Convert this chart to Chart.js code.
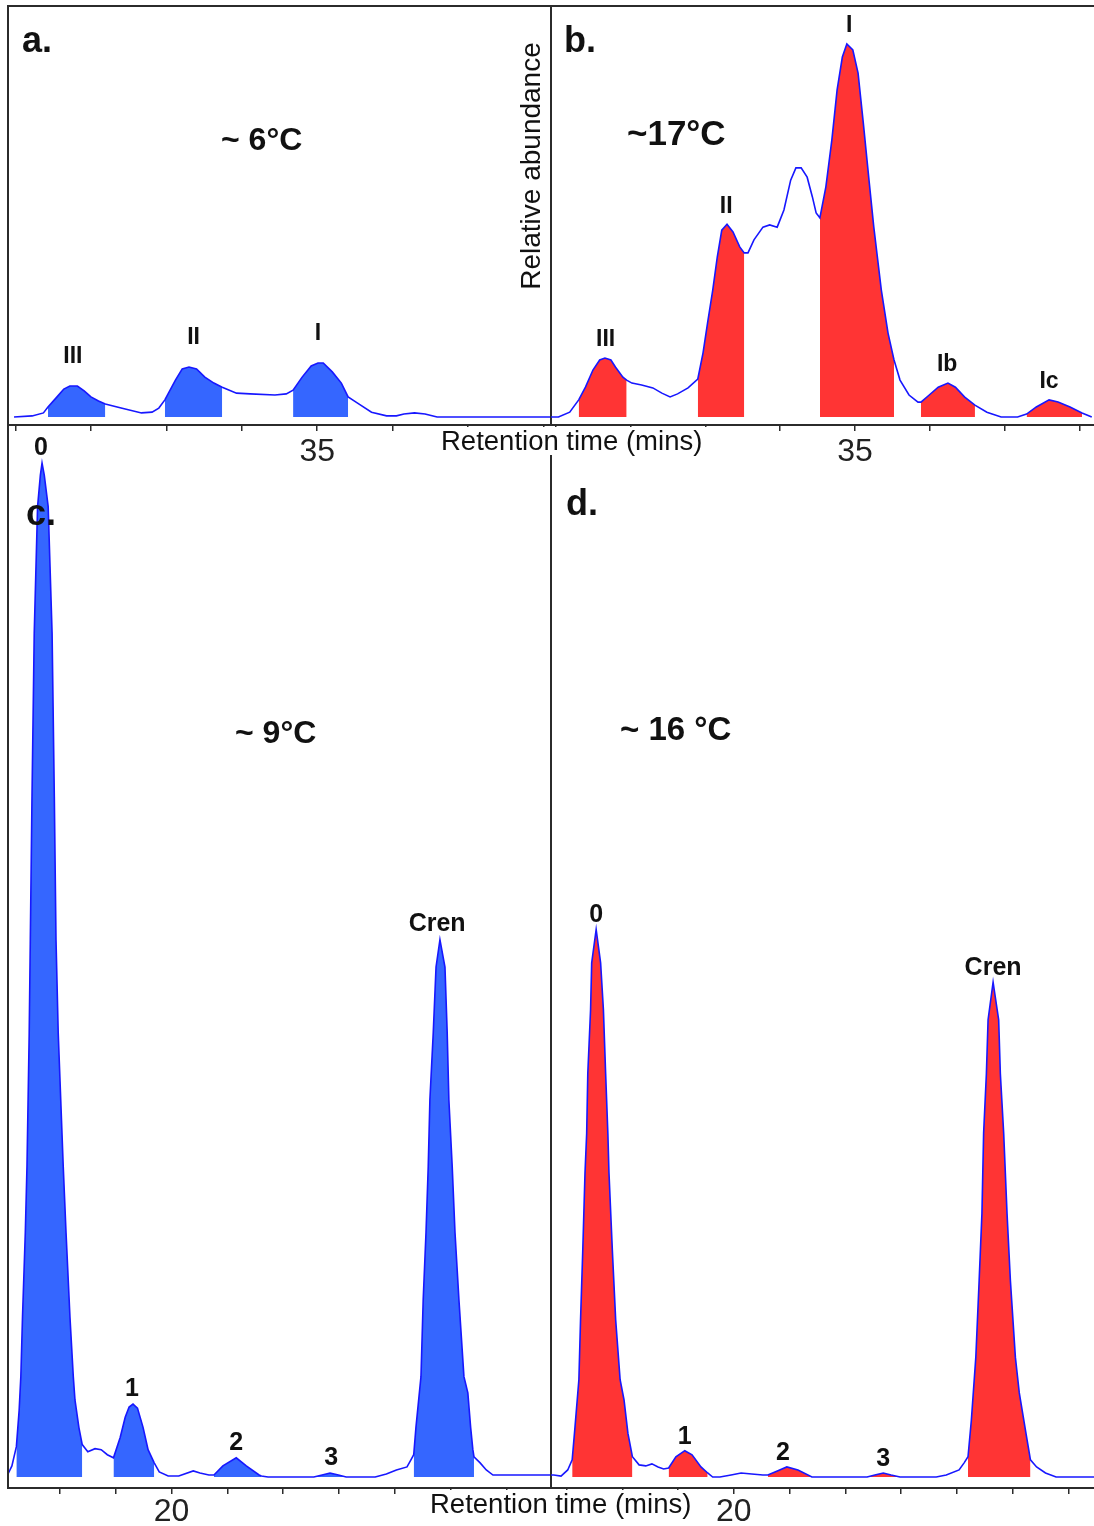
<!DOCTYPE html>
<html>
<head>
<meta charset="utf-8">
<title>GDGT chromatograms</title>
<script src="https://cdn.jsdelivr.net/npm/chart.js@4.4.1/dist/chart.umd.min.js"></script>
<style>
  html, body { margin: 0; padding: 0; background: #fff; }
  body { position: relative; width: 1094px; height: 1526px; overflow: hidden;
         font-family: "Liberation Sans", Arial, Helvetica, sans-serif; color: #111; }
  canvas { position: absolute; }
  .frame { position: absolute; left: 7px; top: 5px; width: 1087px; height: 1483px;
           border-top: 2px solid #2b2b2b; border-left: 2px solid #2b2b2b;
           box-sizing: border-box; z-index: 2; }
  .mask { position: absolute; background: #fff; z-index: 3; }
  .txt { position: absolute; line-height: 1; white-space: nowrap; z-index: 4; }
  .b { font-weight: bold; }
  .ylab { position: absolute; left: 401px; top: 150px; width: 260px; height: 32px;
          line-height: 32px; font-size: 28px; text-align: center; z-index: 4;
          transform: rotate(-90deg); white-space: nowrap; }
</style>
</head>
<body>
<canvas id="panelA" width="560" height="480" style="left:0;top:0"></canvas>
<canvas id="panelB" width="554" height="480" style="left:540px;top:0"></canvas>
<canvas id="panelC" width="560" height="1096" style="left:0;top:430px"></canvas>
<canvas id="panelD" width="554" height="1096" style="left:540px;top:430px"></canvas>

<div class="frame"></div>

<div class="mask" style="left:436px;top:427px;width:276px;height:28px"></div>
<div class="mask" style="left:424px;top:1490px;width:280px;height:36px"></div>

<div class="txt" style="left:441px;top:427px;font-size:27.5px">Retention time (mins)</div>
<div class="txt" style="left:430px;top:1490px;font-size:27.5px">Retention time (mins)</div>
<div class="ylab">Relative abundance</div>

<div class="txt b" style="left:22px;top:22px;font-size:36px">a.</div>
<div class="txt b" style="left:564px;top:22px;font-size:36px">b.</div>
<div class="txt b" style="left:26px;top:495px;font-size:36px">c.</div>
<div class="txt b" style="left:566px;top:485px;font-size:36px">d.</div>

<div class="txt b" style="left:221px;top:123px;font-size:32px">~ 6°C</div>
<div class="txt b" style="left:627px;top:115px;font-size:35px">~17°C</div>
<div class="txt b" style="left:235px;top:716px;font-size:32px">~ 9°C</div>
<div class="txt b" style="left:620px;top:712px;font-size:33px">~ 16 °C</div>

<script>
// a. ~6°C, branched GDGTs: retention time (min) / relative abundance
const aTime = [30.98, 31.22, 31.37, 31.43, 31.55, 31.64, 31.72, 31.82, 31.91, 32.00,
  32.10, 32.19, 32.40, 32.67, 32.81, 32.90, 32.98, 33.12, 33.21, 33.30, 33.40, 33.51,
  33.63, 33.74, 33.93, 34.11, 34.44, 34.59, 34.68, 34.80, 34.92, 35.01, 35.08, 35.20,
  35.32, 35.41, 35.53, 35.72, 35.92, 36.05, 36.15, 36.29, 36.43, 36.59, 38.10];
const aSignal = [0, 0.3, 1.1, 2.7, 5.4, 7.5, 8.3, 8.3, 7.0, 5.4,
  4.3, 3.5, 2.4, 1.1, 1.3, 2.4, 4.6, 9.9, 12.9, 13.4, 12.9, 10.7,
  9.1, 8.0, 6.4, 6.2, 5.9, 6.2, 7.2, 10.7, 13.7, 14.5, 14.5, 12.1,
  9.1, 5.4, 3.8, 1.3, 0.3, 0.3, 0.8, 1.1, 0.8, 0, 0];
const aPeaks = ['III', 'II', 'I'];
const aPeakAt = [31.76, 33.36, 35.01];
const aStart = [31.43, 32.98, 34.68];
const aEnd = [32.19, 33.74, 35.41];

// b. ~17°C
const bTime = [30.94, 31.04, 31.19, 31.31, 31.40, 31.50, 31.59, 31.66, 31.74, 31.80,
  31.90, 31.95, 32.02, 32.15, 32.30, 32.42, 32.53, 32.63, 32.77, 32.90, 32.97, 33.03,
  33.10, 33.16, 33.22, 33.29, 33.37, 33.46, 33.52, 33.57, 33.65, 33.77, 33.86, 33.96,
  34.05, 34.14, 34.21, 34.28, 34.36, 34.43, 34.48, 34.53, 34.61, 34.69, 34.76, 34.83,
  34.89, 34.97, 35.04, 35.11, 35.19, 35.25, 35.35, 35.44, 35.52, 35.60, 35.72, 35.84,
  35.88, 35.99, 36.11, 36.24, 36.34, 36.46, 36.60, 36.76, 36.95, 37.17, 37.29, 37.42,
  37.59, 37.71, 37.87, 38.03, 38.16];
const bSignal = [0, 0, 1.3, 4.6, 8.0, 12.6, 15.3, 15.8, 15.3, 13.4,
  10.7, 9.9, 9.1, 8.6, 7.8, 6.4, 5.4, 6.2, 7.8, 10.2, 17.2, 25.2,
  34.1, 42.9, 50.1, 51.7, 49.6, 45.6, 44.0, 44.0, 47.5, 50.9, 51.5, 50.9,
  55.5, 63.5, 66.8, 66.8, 64.3, 59.0, 54.7, 53.4, 61.7, 74.3, 87.7, 96.5,
  100, 98.4, 92.2, 78.8, 62.7, 50.9, 34.1, 22.5, 15.3, 9.9, 5.9, 4.0,
  4.0, 5.9, 8.0, 9.1, 8.0, 5.4, 3.2, 1.3, 0, 0, 0.8, 2.7,
  4.6, 4.0, 2.7, 1.1, 0];
const bPeaks = ['III', 'II', 'I', 'Ib', 'Ic'];
const bPeakAt = [31.67, 33.28, 34.92, 36.23, 37.59];
const bStart = [31.31, 32.90, 34.53, 35.88, 37.29];
const bEnd = [31.95, 33.52, 35.52, 36.60, 38.03];

// c. ~9°C, isoprenoid GDGTs and crenarchaeol
const cTime = [17.07, 17.14, 17.22, 17.27, 17.30, 17.33, 17.38, 17.41, 17.45, 17.47,
  17.50, 17.54, 17.60, 17.65, 17.68, 17.72, 17.79, 17.86, 17.90, 17.93,
  17.97, 18.06, 18.11, 18.18, 18.24, 18.27, 18.34, 18.40, 18.50, 18.63, 18.74, 18.85,
  18.96, 19.08, 19.17, 19.24, 19.31, 19.39, 19.49, 19.58, 19.69, 19.78, 19.94, 20.13,
  20.39, 20.51, 20.67, 20.76, 20.92, 21.16, 21.34, 21.57, 21.61, 21.73, 22.50, 22.55,
  22.70, 22.84, 22.99, 23.13, 23.65, 23.85, 24.03, 24.22, 24.29, 24.34, 24.38, 24.47,
  24.51, 24.56, 24.60, 24.63, 24.69, 24.74, 24.81, 24.90, 24.94, 24.97, 25.03, 25.08,
  25.15, 25.24, 25.31, 25.36, 25.40, 25.42, 25.53, 25.64, 25.76, 26.80];
const cSignal = [0.3, 1.1, 3.0, 6.6, 9.9, 15.8, 24.1, 30.6, 43.8, 53.0,
  67.1, 83.2, 95.7, 98.8, 100, 98.8, 95.7, 83.2, 67.1, 53.0,
  43.8, 30.6, 24.1, 15.8, 9.9, 7.6, 4.9, 3.2, 2.5, 2.8, 2.7, 2.2,
  1.9, 3.9, 5.9, 6.9, 7.2, 6.8, 4.9, 2.7, 1.4, 0.5, 0.1, 0.1,
  0.6, 0.4, 0.2, 0.2, 1.1, 1.9, 1.1, 0.2, 0.1, 0, 0, 0,
  0.2, 0.4, 0.2, 0, 0, 0.3, 0.7, 1.0, 1.7, 2.2, 4.9, 9.9,
  17.5, 24.1, 30.6, 37.2, 43.8, 50.3, 53.0, 50.3, 43.8, 37.2, 30.6, 24.1,
  17.5, 9.9, 8.3, 4.9, 2.7, 2.0, 1.4, 0.7, 0.2, 0.2];
const cPeaks = ['0', '1', '2', '3', 'Cren'];
const cPeakAt = [17.66, 19.29, 21.16, 22.86, 24.76];
const cStart = [17.22, 18.96, 20.76, 22.55, 24.34];
const cEnd = [18.40, 19.69, 21.61, 23.13, 25.42];

// d. ~16°C
const dTime = [16.72, 16.77, 16.90, 17.02, 17.10, 17.15, 17.22, 17.25, 17.29, 17.33,
  17.36, 17.38, 17.43, 17.45, 17.53, 17.61, 17.66, 17.70, 17.74, 17.76, 17.82, 17.88,
  17.96, 18.03, 18.10, 18.18, 18.30, 18.42, 18.53, 18.64, 18.74, 18.83, 18.96, 19.12,
  19.25, 19.41, 19.53, 19.62, 19.75, 19.95, 20.13, 20.32, 20.52, 20.61, 20.78, 20.95,
  21.15, 21.40, 21.42, 22.35, 22.39, 22.53, 22.68, 22.82, 22.98, 23.63, 23.81, 24.04,
  24.13, 24.20, 24.26, 24.34, 24.40, 24.45, 24.48, 24.53, 24.56, 24.65, 24.75, 24.78,
  24.84, 24.90, 24.96, 25.05, 25.12, 25.24, 25.32, 25.43, 25.59, 25.78, 26.46];
const dSignal = [0.2, 0.2, 0.1, 0.7, 1.7, 4.9, 9.6, 15.5, 22.4, 30.0,
  33.9, 39.8, 46.1, 50.7, 54.0, 50.7, 46.1, 39.8, 33.9, 30.0, 22.4, 15.5,
  9.6, 7.6, 4.3, 2.0, 1.2, 1.1, 1.3, 1.0, 0.8, 0.9, 2.0, 2.6,
  2.2, 1.0, 0.4, 0, 0, 0.2, 0.4, 0.3, 0.2, 0.2, 0.6, 1.0,
  0.7, 0, 0, 0, 0, 0.2, 0.4, 0.2, 0, 0, 0.2, 0.7,
  1.4, 2.0, 5.6, 11.8, 19.4, 26.0, 33.9, 39.8, 45.1, 48.8, 45.1, 39.8,
  33.9, 26.0, 19.4, 11.8, 8.3, 4.3, 1.7, 1.0, 0.4, 0, 0];
const dPeaks = ['0', '1', '2', '3', 'Cren'];
const dPeakAt = [17.53, 19.12, 20.88, 22.68, 24.65];
const dStart = [17.10, 18.83, 20.61, 22.39, 24.20];
const dEnd = [18.18, 19.53, 21.42, 22.98, 25.32];

const topTickLabels = [35];
const bottomTickLabels = [20];

const traceBlue = '#1717ff';
const blueFill = '#3566ff';
const redFill = '#ff3434';
const axisGrey = '#2b2b2b';
const narrow = '"Liberation Sans Narrow", "Arial Narrow", "Liberation Sans", Arial, sans-serif';

Chart.defaults.font.family = '"Liberation Sans", Arial, sans-serif';

// writes each peak name above the highest trace point near its retention time
const peakLabels = {
  id: 'peakLabels',
  afterDatasetsDraw(chart, args, opts) {
    const {ctx, scales: {x, y}} = chart;
    const trace = chart.data.datasets[0].data;
    ctx.save();
    ctx.font = opts.font;
    ctx.fillStyle = '#111';
    ctx.textAlign = 'center';
    ctx.textBaseline = 'middle';
    opts.names.forEach((name, i) => {
      const at = opts.at[i];
      const top = Math.max(...trace.filter(p => Math.abs(p.x - at) <= 0.15).map(p => p.y));
      ctx.fillText(name, x.getPixelForValue(at), y.getPixelForValue(top) - opts.gap);
    });
    ctx.restore();
  }
};

function makePanel(id, p) {
  const trace = p.time.map((t, i) => ({x: t, y: p.signal[i]}));
  // integrated peak areas, filled down to the baseline
  const areas = p.start.map((s, i) => ({
    data: trace.filter(pt => pt.x >= s && pt.x <= p.end[i]),
    borderColor: 'rgba(0,0,0,0)',
    borderWidth: 0,
    pointRadius: 0,
    backgroundColor: p.fill,
    fill: {value: 0},
    tension: 0,
    order: 1
  }));

  return new Chart(document.getElementById(id), {
    type: 'line',
    data: {
      datasets: [{
        data: trace,
        borderColor: traceBlue,
        borderWidth: 1.6,
        pointRadius: 0,
        fill: false,
        tension: 0,
        order: 0
      }, ...areas]
    },
    options: {
      responsive: false,
      animation: false,
      devicePixelRatio: 1,
      events: [],
      layout: {autoPadding: false, padding: p.padding},
      plugins: {
        legend: {display: false},
        tooltip: {enabled: false},
        peakLabels: {names: p.peaks, at: p.peakAt, gap: p.gap, font: p.labelFont}
      },
      scales: {
        x: {
          type: 'linear',
          min: p.xMin,
          max: p.xMax,
          grid: {drawOnChartArea: false, tickLength: 6, color: axisGrey, lineWidth: 1.5},
          border: {color: axisGrey, width: 2},
          ticks: {
            stepSize: 1,
            autoSkip: false,
            maxRotation: 0,
            includeBounds: false,
            padding: p.tickPad,
            color: '#222',
            font: {family: narrow, size: 32},
            callback: v => p.tickLabels.includes(v) ? String(v) : ''
          },
          afterFit: s => { s.height = p.axisHeight; }
        },
        y: {
          type: 'linear',
          min: p.yMin,
          max: p.yMax,
          grid: {display: false, drawTicks: false},
          border: {color: axisGrey, width: 2},
          ticks: {display: false},
          afterFit: s => { s.width = 0; }
        }
      }
    },
    plugins: [peakLabels]
  });
}

const topFont = 'bold 23px "Liberation Sans", Arial, sans-serif';
const bottomFont = 'bold 25px ' + narrow;

makePanel('panelA', {
  time: aTime, signal: aSignal, peaks: aPeaks, peakAt: aPeakAt, start: aStart, end: aEnd,
  fill: blueFill, xMin: 30.90, xMax: 38.10, yMin: -2.14, yMax: 110.19,
  tickLabels: topTickLabels, tickPad: 2, axisHeight: 55,
  padding: {left: 8, right: 9, top: 6, bottom: 0}, gap: 29, labelFont: topFont
});

makePanel('panelB', {
  time: bTime, signal: bSignal, peaks: bPeaks, peakAt: bPeakAt, start: bStart, end: bEnd,
  fill: redFill, xMin: 30.94, xMax: 38.19, yMin: -2.14, yMax: 110.19,
  tickLabels: topTickLabels, tickPad: 2, axisHeight: 55,
  padding: {left: 11, right: 0, top: 6, bottom: 0}, gap: 18, labelFont: topFont
});

makePanel('panelC', {
  time: cTime, signal: cSignal, peaks: cPeaks, peakAt: cPeakAt, start: cStart, end: cEnd,
  fill: blueFill, xMin: 17.07, xMax: 26.80, yMin: -1.08, yMax: 100.79,
  tickLabels: bottomTickLabels, tickPad: -1, axisHeight: 38,
  padding: {left: 8, right: 9, top: 25, bottom: 0}, gap: 15, labelFont: bottomFont
});

makePanel('panelD', {
  time: dTime, signal: dSignal, peaks: dPeaks, peakAt: dPeakAt, start: dStart, end: dEnd,
  fill: redFill, xMin: 16.72, xMax: 26.46, yMin: -1.08, yMax: 100.79,
  tickLabels: bottomTickLabels, tickPad: -1, axisHeight: 38,
  padding: {left: 11, right: 0, top: 25, bottom: 0}, gap: 14, labelFont: bottomFont
});
</script>
</body>
</html>
